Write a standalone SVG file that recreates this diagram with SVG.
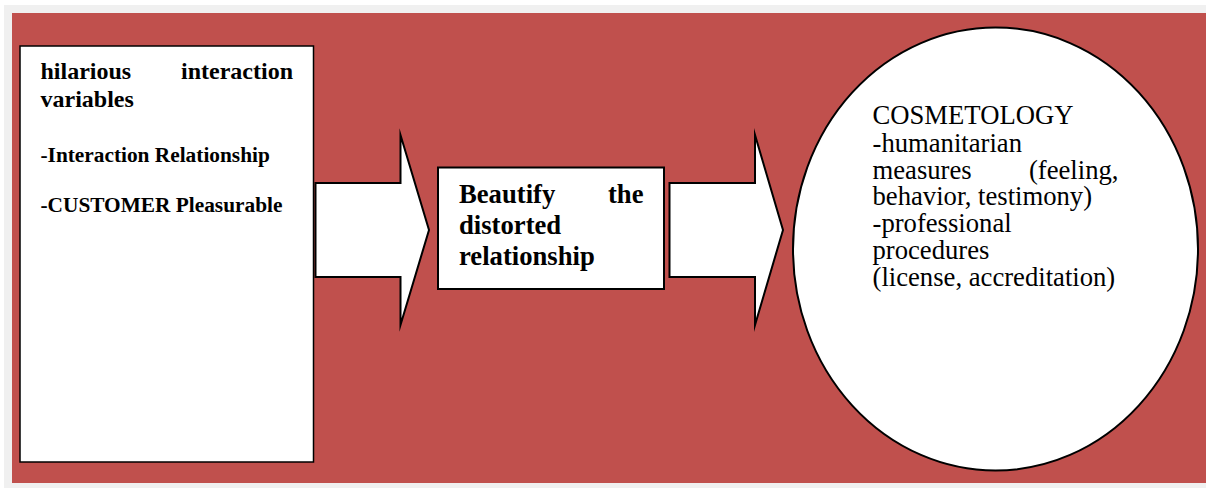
<svg xmlns="http://www.w3.org/2000/svg" width="1206" height="488" viewBox="0 0 1206 488">
<style>
text{font-family:"Liberation Serif","Times New Roman",serif;fill:#000}
.b{font-weight:bold}
.h{font-size:24px}
.s{font-size:21.33px}
.m{font-size:26.67px}
.c{font-size:26.67px}
.e{text-anchor:end}
.sh{fill:#fff;stroke:#000;stroke-width:2;stroke-miterlimit:10}
</style>
<rect x="0" y="0" width="1206" height="488" fill="#fff"/>
<rect x="4" y="5" width="1202" height="483" fill="#f0f0f0"/>
<rect x="12" y="13" width="1194" height="470" fill="#c0504d"/>
<g id="connectors">
<polygon class="sh" points="315.500,183 400.500,183 400.500,135 429,230 400.500,325 400.500,277 315.500,277"/>
<polygon class="sh" points="669.500,183 755,183 755,135 783,230 755,325 755,277 669.500,277"/>
</g>
<g id="node-variables">
<rect x="20" y="46" width="293.500" height="416" fill="#fff" stroke="#000" stroke-width="1.500"/>
<text class="b h" x="40.500" y="79">hilarious</text>
<text class="b h e" x="293" y="79">interaction</text>
<text class="b h" x="40.500" y="107">variables</text>
<text class="b s" x="40.500" y="162">-Interaction Relationship</text>
<text class="b s" x="40.500" y="211.500">-CUSTOMER Pleasurable</text>
</g>
<g id="node-beautify">
<rect x="438" y="167.500" width="226" height="121.500" class="sh"/>
<text class="b m" x="459" y="203">Beautify</text>
<text class="b m e" x="643.500" y="203">the</text>
<text class="b m" x="459" y="234">distorted</text>
<text class="b m" x="459" y="265">relationship</text>
</g>
<g id="node-cosmetology">
<ellipse cx="995.500" cy="249" rx="202.500" ry="221.500" class="sh"/>
<text class="c" x="872.500" y="124">COSMETOLOGY</text>
<text class="c" x="872.500" y="152">-humanitarian</text>
<text class="c" x="872.500" y="179">measures</text>
<text class="c e" x="1118.500" y="179">(feeling,</text>
<text class="c" x="872.500" y="205">behavior, testimony)</text>
<text class="c" x="872.500" y="232">-professional</text>
<text class="c" x="872.500" y="259">procedures</text>
<text class="c" x="872.500" y="286">(license, accreditation)</text>
</g>
</svg>
